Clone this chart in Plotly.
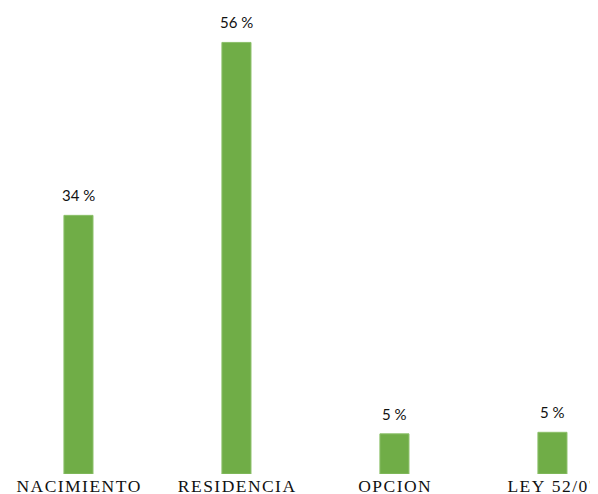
import plotly.graph_objects as go

# datos
categorias = ["NACIMIENTO", "RESIDENCIA", "OPCION", "LEY 52/07"]
valores = [33.5, 55.9, 5.2, 5.4]
etiquetas = ["34 %", "56 %", "5 %", "5 %"]

# espaciado entre letras imitado con espacios muy finos
HAIR = "\u200a"
ticks = [HAIR.join(c) for c in categorias]

fig = go.Figure(go.Bar(
    x=categorias,
    y=valores,
    width=0.184,
    marker=dict(color="#70AD47", line=dict(color="#8CC06A", width=1)),
    hoverinfo="skip",
))

for c, v, t in zip(categorias, valores, etiquetas):
    fig.add_annotation(x=c, y=v, text=t, showarrow=False, yanchor="bottom",
                       yshift=9, font=dict(family="Lato", size=15, color="#111"))

fig.update_layout(
    width=598, height=494,
    margin=dict(l=0, r=0, t=0, b=28),
    paper_bgcolor="white", plot_bgcolor="white",
    showlegend=False,
    xaxis=dict(range=[-0.446, 3.339], tickvals=categorias, ticktext=ticks,
               showgrid=False, zeroline=False, showline=False, ticks="",
               ticklabelstandoff=-1,
               tickfont=dict(family="Liberation Serif", size=17.5, color="#111"),
               automargin=False),
    yaxis=dict(range=[0, 60.36], visible=False, automargin=False),
)

fig.write_html("out.html")
